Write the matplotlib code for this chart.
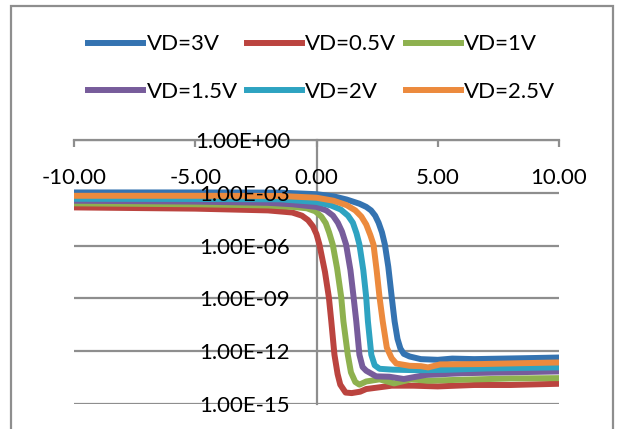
import numpy as np
import matplotlib
matplotlib.use('Agg')
import matplotlib.pyplot as plt
from matplotlib.patches import Rectangle
from matplotlib.ticker import NullLocator

plt.rcParams['font.family'] = ['Lato', 'DejaVu Sans']

# drain current, stored as log10(Id)
x_vd3 = [-10, -5, -1.5, 0, 0.7, 1.24, 1.77, 2.05, 2.25, 2.42, 2.56, 2.7, 2.82, 2.96, 3.1, 3.22,
         3.34, 3.46, 3.6, 3.84, 4.3, 5.0, 5.6, 6.5, 8.5, 10.0]
log_vd3 = [-2.98, -2.98, -2.99, -3.08, -3.2, -3.38, -3.62, -3.8, -4.0, -4.3, -4.7, -5.25, -5.94,
           -7.2, -8.9, -10.3, -11.3, -11.85, -12.15, -12.3, -12.45, -12.49, -12.42, -12.45, -12.4,
           -12.36]

x_vd05 = [-10, -5, -2, -1, -0.6, -0.35, -0.15, 0.0, 0.12, 0.35, 0.51, 0.61, 0.74, 0.87, 0.98,
          1.2, 1.45, 1.8, 2.05, 2.6, 3.1, 4.0, 5.0, 6.5, 8.0, 10.0]
log_vd05 = [-3.83, -3.9, -4.0, -4.12, -4.3, -4.55, -4.9, -5.35, -5.94, -7.5, -8.94, -10.3, -12.2,
            -13.3, -13.9, -14.35, -14.38, -14.3, -14.15, -14.05, -13.96, -13.96, -14.0, -13.92,
            -13.92, -13.85]

x_vd1 = [-10, -5, -2, -1, -0.4, -0.05, 0.2, 0.38, 0.52, 0.67, 0.85, 1.02, 1.11, 1.29, 1.42, 1.6,
         1.77, 2.05, 2.6, 3.2, 3.9, 4.6, 6.0, 8.0, 10.0]
log_vd1 = [-3.6, -3.65, -3.72, -3.8, -3.88, -4.05, -4.35, -4.72, -5.25, -5.94, -7.3, -8.94, -10.3,
           -12.2, -13.2, -13.75, -13.9, -13.72, -13.6, -13.83, -13.6, -13.68, -13.62, -13.55,
           -13.53]

x_vd15 = [-10, -5, -2, -1, 0, 0.4, 0.68, 0.88, 1.05, 1.22, 1.4, 1.53, 1.64, 1.77, 1.9, 2.05, 2.46,
          3.0, 3.6, 4.5, 6.0, 8.0, 10.0]
log_vd15 = [-3.45, -3.5, -3.57, -3.65, -3.8, -4.0, -4.3, -4.7, -5.2, -5.94, -7.4, -8.94, -10.3,
            -12.2, -12.9, -13.11, -13.43, -13.45, -13.58, -13.35, -13.25, -13.2, -13.15]

x_vd2 = [-10, -5, -1.5, 0, 0.6, 1.0, 1.3, 1.5, 1.65, 1.77, 1.93, 2.05, 2.12, 2.26, 2.4, 2.6, 3.15,
         4.2, 5.3, 7.0, 8.5, 10.0]
log_vd2 = [-3.34, -3.35, -3.37, -3.52, -3.72, -3.95, -4.3, -4.7, -5.3, -5.94, -7.4, -8.94, -10.3,
           -12.2, -12.8, -13.0, -13.05, -13.08, -13.06, -12.98, -12.95, -12.92]

x_vd25 = [-10, -5, -1.5, 0, 0.7, 1.24, 1.6, 1.85, 2.05, 2.22, 2.35, 2.48, 2.6, 2.73, 2.9, 3.1,
          3.29, 3.84, 4.3, 4.6, 5.1, 6.8, 8.5, 10.0]
log_vd25 = [-3.17, -3.17, -3.18, -3.28, -3.45, -3.7, -4.0, -4.35, -4.8, -5.4, -5.94, -7.4, -8.94,
            -10.3, -11.8, -12.4, -12.7, -12.83, -12.85, -12.92, -12.75, -12.73, -12.68, -12.64]

labels = ['VD=3V', 'VD=0.5V', 'VD=1V', 'VD=1.5V', 'VD=2V', 'VD=2.5V']
colors = ['#3473b1', '#bb443f', '#8eb14f', '#775c9b', '#2ea3c1', '#ec8a3d']
series_x = [x_vd3, x_vd05, x_vd1, x_vd15, x_vd2, x_vd25]
series_log = [log_vd3, log_vd05, log_vd1, log_vd15, log_vd2, log_vd25]

x_ticks = [-10, -5, 0, 5, 10]
y_ticks = [1e-15, 1e-12, 1e-9, 1e-6, 1e-3, 1e0]

grid_col = '#8e8e8e'
fs = 16

fig = plt.figure(figsize=(6.2, 4.29), dpi=100)
ax = fig.add_axes([74 / 620, 1 - 404 / 429, (559 - 74) / 620, (404 - 140) / 429])

handles = []
for xs, ls, c, lab in zip(series_x, series_log, colors, labels):
    h, = ax.plot(xs, 10.0 ** np.array(ls), color=c, lw=4.3, label=lab,
                 solid_joinstyle='round', zorder=2)
    handles.append(h)

ax.set_yscale('log')
ax.set_xlim(-10, 10)
ax.set_ylim(1e-15, 1)
ax.set_yticks(y_ticks)
ax.set_yticklabels([f"{v:.2E}" for v in y_ticks])
ax.yaxis.set_minor_locator(NullLocator())
ax.set_xticks(x_ticks)
ax.set_xticklabels([f"{v:.2f}" for v in x_ticks])

# horizontal gridlines under the curves
for v in y_ticks:
    ax.axhline(v, color=grid_col, lw=1.6, zorder=0.5)

# excel style: value axis crosses at x=0, category axis on top
ax.spines['left'].set_position(('data', 0))
ax.spines['bottom'].set_position(('axes', 1.0))
ax.spines['top'].set_visible(False)
ax.spines['right'].set_visible(False)
for s in ['left', 'bottom']:
    ax.spines[s].set_color(grid_col)
    ax.spines[s].set_linewidth(1.6)
    ax.spines[s].set_zorder(1)
ax.set_axisbelow(False)
ax.tick_params(axis='x', direction='out', length=5, width=1.6, color=grid_col, pad=15,
               labelsize=fs)
ax.tick_params(axis='y', length=0, pad=19, labelsize=fs)

order = [0, 3, 1, 4, 2, 5]
fig.legend([handles[i] for i in order], [labels[i] for i in order], ncol=3,
           loc='upper left', bbox_to_anchor=(88 / 620, 1 - 34.5 / 429), frameon=False,
           fontsize=fs, handlelength=2.48, handletextpad=0.15, columnspacing=0.42,
           labelspacing=1.22, borderpad=0, borderaxespad=0)

fig.add_artist(Rectangle((11 / 620, -0.05), (613 - 11) / 620, 1.05 - 6 / 429,
                         transform=fig.transFigure, fill=False, ec=grid_col, lw=1.6))

fig.savefig('out.png', dpi=100)
